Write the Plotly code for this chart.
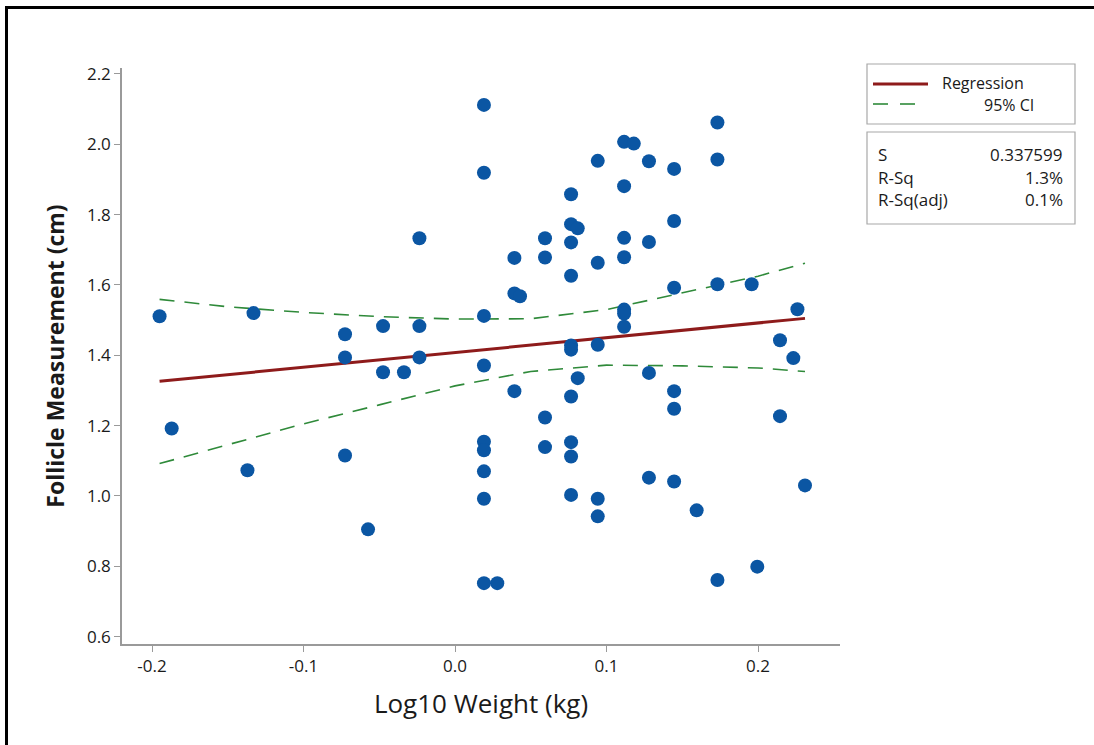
import plotly.graph_objects as go

# ---- data ----
log_weight = [-0.195, -0.187, -0.137, -0.133, -0.0726, -0.0726, -0.0726, -0.0574,
              -0.0475, -0.0475, -0.0337, -0.0235, -0.0235, -0.0235,
              0.0191, 0.0191, 0.0191, 0.0191, 0.0191, 0.0191, 0.0191, 0.0191, 0.0191, 0.0279,
              0.0392, 0.0392, 0.0429, 0.0392,
              0.0594, 0.0594, 0.0594, 0.0594,
              0.0766, 0.0766, 0.081, 0.0766, 0.0766, 0.0766, 0.0766, 0.081, 0.0766, 0.0766, 0.0766, 0.0766,
              0.0942, 0.0942, 0.0942, 0.0942, 0.0942,
              0.1116, 0.118, 0.1116, 0.1116, 0.1116, 0.1116, 0.1116, 0.1116,
              0.128, 0.128, 0.128, 0.128,
              0.1446, 0.1446, 0.1446, 0.1446, 0.1446, 0.1446,
              0.1595, 0.1732, 0.1732, 0.1732, 0.1732,
              0.1958, 0.1995, 0.2145, 0.2145, 0.2233, 0.226, 0.231]
follicle = [1.511, 1.192, 1.073, 1.520, 1.460, 1.394, 1.115, 0.905,
            1.483, 1.352, 1.352, 1.733, 1.483, 1.394,
            2.112, 1.919, 1.512, 1.371, 1.154, 1.130, 1.070, 0.992, 0.752, 0.752,
            1.677, 1.576, 1.568, 1.298,
            1.733, 1.678, 1.223, 1.139,
            1.858, 1.773, 1.761, 1.721, 1.626, 1.428, 1.416, 1.335, 1.283, 1.153, 1.112, 1.003,
            1.953, 1.663, 1.430, 0.992, 0.942,
            2.007, 2.002, 1.881, 1.734, 1.679, 1.530, 1.519, 1.481,
            1.952, 1.722, 1.350, 1.052,
            1.930, 1.782, 1.592, 1.298, 1.248, 1.041,
            0.959, 2.062, 1.957, 1.602, 0.761,
            1.602, 0.799, 1.443, 1.227, 1.392, 1.531, 1.030]

reg_x = [-0.195, 0.231]
reg_y = [1.326, 1.505]

ci_x = [-0.195, -0.15, -0.1, -0.05, 0.0, 0.05, 0.1, 0.15, 0.2, 0.231]
ci_upper = [1.559, 1.538, 1.522, 1.510, 1.503, 1.504, 1.530, 1.578, 1.625, 1.662]
ci_lower = [1.092, 1.145, 1.205, 1.259, 1.313, 1.354, 1.372, 1.370, 1.364, 1.354]

x_ticks = [-0.2, -0.1, 0.0, 0.1, 0.2]
x_tick_labels = ["-0.2", "-0.1", "0.0", "0.1", "0.2"]
y_ticks = [0.6, 0.8, 1.0, 1.2, 1.4, 1.6, 1.8, 2.0, 2.2]
y_tick_labels = ["0.6", "0.8", "1.0", "1.2", "1.4", "1.6", "1.8", "2.0", "2.2"]

stats_names = ["S", "R-Sq", "R-Sq(adj)"]
stats_values = ["0.337599", "1.3%", "0.1%"]
legend_names = ["Regression", "95% CI"]

# ---- styles ----
FONT = "Open Sans, Noto Sans, DejaVu Sans, sans-serif"
TXT = "#1a1a1a"
BLUE = "#0B56A3"
RED = "#8E1B1B"
GREEN = "#2F8A3A"
AXIS = "#9a9a9a"
W, H = 1094, 745
L, R, T, B = 122, 254, 68, 101
PW, PH = W - L - R, H - T - B

def px(x):
    return (x - L) / PW

def py(y):
    return (H - B - y) / PH

fig = go.Figure()
fig.add_trace(go.Scatter(x=ci_x, y=ci_upper, mode="lines",
                         line=dict(color=GREEN, width=1.6, dash="15px,10px"),
                         showlegend=False, hoverinfo="skip"))
fig.add_trace(go.Scatter(x=ci_x, y=ci_lower, mode="lines",
                         line=dict(color=GREEN, width=1.6, dash="15px,10px"),
                         showlegend=False, hoverinfo="skip"))
fig.add_trace(go.Scatter(x=reg_x, y=reg_y, mode="lines",
                         line=dict(color=RED, width=3),
                         showlegend=False))
fig.add_trace(go.Scatter(x=log_weight, y=follicle, mode="markers",
                         marker=dict(color=BLUE, size=14, line=dict(width=0)),
                         showlegend=False))

shapes = [
    # frame border (top & left)
    dict(type="line", xref="paper", yref="paper", x0=px(5), x1=px(1094), y0=py(7.5), y1=py(7.5),
         line=dict(color="black", width=3)),
    dict(type="line", xref="paper", yref="paper", x0=px(6.5), x1=px(6.5), y0=py(6), y1=py(745),
         line=dict(color="black", width=3)),
    # legend box
    dict(type="rect", xref="paper", yref="paper", x0=px(867), x1=px(1075), y0=py(64), y1=py(124),
         line=dict(color="#a8a8a8", width=1.2), fillcolor="white"),
    dict(type="line", xref="paper", yref="paper", x0=px(873), x1=px(928), y0=py(84), y1=py(84),
         line=dict(color=RED, width=3)),
    dict(type="line", xref="paper", yref="paper", x0=px(873), x1=px(888), y0=py(104), y1=py(104),
         line=dict(color=GREEN, width=1.6)),
    dict(type="line", xref="paper", yref="paper", x0=px(900), x1=px(915), y0=py(104), y1=py(104),
         line=dict(color=GREEN, width=1.6)),
    # stats box
    dict(type="rect", xref="paper", yref="paper", x0=px(867), x1=px(1075), y0=py(132), y1=py(224),
         line=dict(color="#a8a8a8", width=1.2), fillcolor="white"),
]

annotations = [
    dict(text=legend_names[0], xref="paper", yref="paper", x=px(940), y=py(83),
         xanchor="left", yanchor="middle", showarrow=False,
         font=dict(family=FONT, size=16, color=TXT)),
    dict(text=legend_names[1], xref="paper", yref="paper", x=px(1036), y=py(105),
         xanchor="right", yanchor="middle", showarrow=False,
         font=dict(family=FONT, size=16, color=TXT)),
]
row_y = [155, 177, 199]
for name, val, yy in zip(stats_names, stats_values, row_y):
    annotations.append(dict(text=name, xref="paper", yref="paper", x=px(876), y=py(yy),
                            xanchor="left", yanchor="middle", showarrow=False,
                            font=dict(family=FONT, size=17, color=TXT)))
    annotations.append(dict(text=val, xref="paper", yref="paper", x=px(1065), y=py(yy),
                            xanchor="right", yanchor="middle", showarrow=False,
                            font=dict(family=FONT, size=17, color=TXT)))

fig.update_layout(
    width=W, height=H,
    margin=dict(l=L, r=R, t=T, b=B, pad=0),
    paper_bgcolor="white", plot_bgcolor="white",
    shapes=shapes, annotations=annotations,
    showlegend=False,
    xaxis=dict(range=[-0.2198, 0.2541], tickvals=x_ticks, ticktext=x_tick_labels,
               showgrid=False, zeroline=False, showline=True, linecolor=AXIS, linewidth=1.5,
               ticks="outside", ticklen=6, tickcolor=AXIS, tickwidth=1,
               tickfont=dict(family=FONT, size=17, color=TXT),
               title=dict(text="Log10 Weight (kg)", font=dict(family=FONT, size=26, color=TXT),
                          standoff=19)),
    yaxis=dict(range=[0.579, 2.217], tickvals=y_ticks, ticktext=y_tick_labels,
               showgrid=False, zeroline=False, showline=True, linecolor=AXIS, linewidth=1.5,
               ticks="outside", ticklen=6, tickcolor=AXIS, tickwidth=1,
               tickfont=dict(family=FONT, size=17, color=TXT),
               title=dict(text="<b>Follicle Measurement (cm)</b>",
                          font=dict(family=FONT, size=23, color=TXT), standoff=16)),
)

fig.write_html("out.html")
